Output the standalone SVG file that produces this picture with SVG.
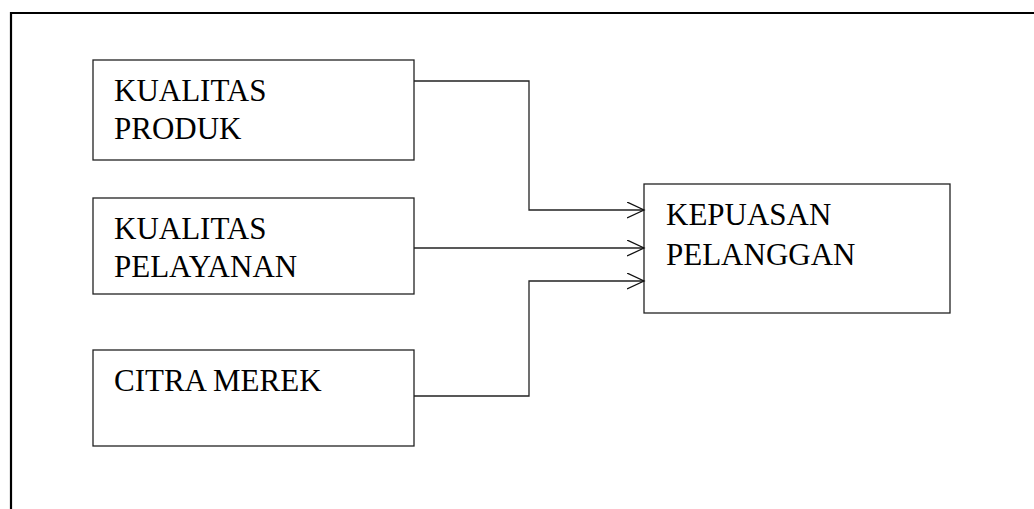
<svg xmlns="http://www.w3.org/2000/svg" width="1034" height="509" viewBox="0 0 1034 509">
  <style>
    .box { fill: #fff; stroke: #222; stroke-width: 1.3; }
    .lbl { font-family: "Liberation Serif", "Times New Roman", serif; font-size: 31px; fill: #000; }
    .wire { fill: none; stroke: #222; stroke-width: 1.3; }
  </style>
  <defs>
    <marker id="open-arrow" markerWidth="20" markerHeight="20" refX="17" refY="8" orient="auto" markerUnits="userSpaceOnUse">
      <path d="M0,0 L17,8 L0,16" fill="none" stroke="#111" stroke-width="1.3"/>
    </marker>
  </defs>
  <rect width="1034" height="509" fill="#fff"/>
  <!-- outer frame (open on the right and bottom) -->
  <path d="M11,509 V13 H1034" fill="none" stroke="#000" stroke-width="2.2"/>

  <g id="kualitas-produk">
    <rect class="box" x="93" y="60" width="321" height="100"/>
    <text class="lbl" x="114" y="100.5">KUALITAS</text>
    <text class="lbl" x="114" y="139">PRODUK</text>
  </g>
  <g id="kualitas-pelayanan">
    <rect class="box" x="93" y="198" width="321" height="96"/>
    <text class="lbl" x="114" y="238.5">KUALITAS</text>
    <text class="lbl" x="114" y="277">PELAYANAN</text>
  </g>
  <g id="citra-merek">
    <rect class="box" x="93" y="350" width="321" height="96"/>
    <text class="lbl" x="114" y="391">CITRA MEREK</text>
  </g>
  <g id="kepuasan-pelanggan">
    <rect class="box" x="644" y="184" width="306" height="129"/>
    <text class="lbl" x="666" y="224.5">KEPUASAN</text>
    <text class="lbl" x="666" y="264.5">PELANGGAN</text>
  </g>

  <g id="connectors">
    <path class="wire" d="M414,81 H529 V210 H644" marker-end="url(#open-arrow)"/>
    <path class="wire" d="M414,248 H644" marker-end="url(#open-arrow)"/>
    <path class="wire" d="M414,396 H529 V281 H644" marker-end="url(#open-arrow)"/>
  </g>
</svg>
